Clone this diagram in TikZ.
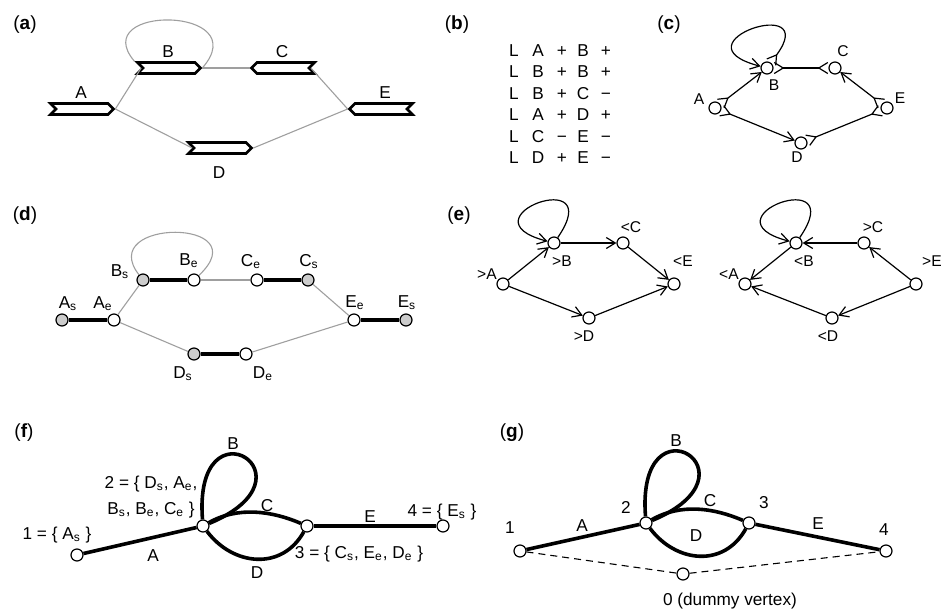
\documentclass[tikz,border=0pt]{standalone}
\usepackage{fontspec}
\setmainfont{Liberation Sans}
\usetikzlibrary{arrows.meta}
\usetikzlibrary{shapes.symbols}

\tikzset{
  lbl/.style={font=\fontsize{8.6}{10}\selectfont, inner sep=0pt,
    text height=6.1pt, text depth=0pt},
  slbl/.style={font=\fontsize{7.8}{9}\selectfont, inner sep=0pt,
    text height=5.6pt, text depth=0pt},
  panel/.style={font=\fontsize{9.5}{11}\selectfont, inner sep=0pt},
  chev/.style={signal, draw, fill=white, line width=1.3pt, inner sep=0pt,
    minimum width=31.5pt, minimum height=5.5pt,
    signal from=west, signal to=east},
  vchev/.style={signal, draw, fill=white, line width=1.3pt, inner sep=0pt,
    minimum width=31.5pt, minimum height=5.5pt,
    signal from=east, signal to=west},
  link/.style={draw=gray!75, line width=0.55pt},
  vtx/.style={circle, draw, fill=white, line width=0.6pt, inner sep=0pt,
    minimum size=6pt},
  svtx/.style={vtx, fill=gray!40},
  seg/.style={line width=2pt},
  arc/.style={line width=1.8pt},
  bid/.style={line width=0.6pt, >={Straight Barb[length=4.5pt,width=5.5pt]}},
  dir/.style={line width=0.6pt, >={Straight Barb[length=4.5pt,width=5.5pt]}, ->},
}

\begin{document}
\begin{tikzpicture}[x=0.5pt, y=-0.5pt]
  \useasboundingbox (0,0) rectangle (949,616);

  % (a) contigs and links
  \node[panel] (pa) at (25,25) {(\textbf{a})};
  \node[chev] (aA) at (82,109) {};
  \node[chev] (aB) at (169,68) {};
  \node[vchev] (aC) at (283,68) {};
  \node[chev] (aD) at (220,148) {};
  \node[vchev] (aE) at (381,109) {};
  \node[lbl] (aAl) at (81,92) {A};
  \node[lbl] (aBl) at (168,51) {B};
  \node[lbl] (aCl) at (282,51) {C};
  \node[lbl] (aDl) at (219,172) {D};
  \node[lbl] (aEl) at (385,92) {E};
  \draw[link] (aA.east) -- (aB.west);
  \draw[link] (aA.east) -- (aD.west);
  \draw[link] (aB.east) -- (aC.west);
  \draw[link] (aC.east) -- (aE.west);
  \draw[link] (aD.east) -- (aE.west);
  \draw[link] (aB.north west) .. controls +(-48,-57) and +(54,-62) .. (aB.east);

  % (b) link lines
  \node[panel] (pb) at (457,25) {(\textbf{b})};
  \foreach \u/\su/\v/\sv [count=\i] in
      {A/+/B/+, B/+/B/+, B/+/C/−, A/+/D/+, C/−/E/−, D/+/E/−} {
    \path (514,28.5+21.5*\i) node[lbl] (bL\i) {L}
      ++(24,0) node[lbl] (bU\i) {\u}
      ++(24,0) node[lbl] (bSu\i) {\su}
      ++(21,0) node[lbl] (bV\i) {\v}
      ++(23,0) node[lbl] (bSv\i) {\sv};
  }

  % (c) bidirected graph
  \node[panel] (pc) at (669,25) {(\textbf{c})};
  \node[vtx] (cA) at (715,108) {};
  \node[vtx] (cB) at (767,68) {};
  \node[vtx] (cC) at (835,68) {};
  \node[vtx] (cD) at (801,143) {};
  \node[vtx] (cE) at (887,108) {};
  \node[slbl] (cAl) at (699,99) {A};
  \node[slbl] (cBl) at (774,85) {B};
  \node[slbl] (cCl) at (843,51) {C};
  \node[slbl] (cDl) at (797,157) {D};
  \node[slbl] (cEl) at (900,98) {E};
  \draw[bid, >->] (cA) -- (cB);
  \draw[bid, >->] (cB) .. controls +(55,-75) and +(-95,-25) .. (cB);
  \draw[bid, >-<] (cB) -- (cC);
  \draw[bid, >->] (cA) -- (cD);
  \draw[bid, <-<] (cC) -- (cE);
  \draw[bid, >-<] (cD) -- (cE);

  % (d) contig ends
  \node[panel] (pd) at (25,216) {(\textbf{d})};
  \node[svtx] (dAs) at (62,320) {};
  \node[vtx] (dAe) at (114,320) {};
  \node[svtx] (dBs) at (143,280) {};
  \node[vtx] (dBe) at (194,280) {};
  \node[vtx] (dCe) at (257,280) {};
  \node[svtx] (dCs) at (308,280) {};
  \node[svtx] (dDs) at (194,354) {};
  \node[vtx] (dDe) at (246,354) {};
  \node[vtx] (dEe) at (354,320) {};
  \node[svtx] (dEs) at (406,320) {};
  \node[lbl] (dAsl) at (68,302) {A\textsubscript{s}};
  \node[lbl] (dAel) at (103,302) {A\textsubscript{e}};
  \node[lbl] (dBsl) at (120,270) {B\textsubscript{s}};
  \node[lbl] (dBel) at (189,259) {B\textsubscript{e}};
  \node[lbl] (dCel) at (251,260) {C\textsubscript{e}};
  \node[lbl] (dCsl) at (309,260) {C\textsubscript{s}};
  \node[lbl] (dEel) at (355,301) {E\textsubscript{e}};
  \node[lbl] (dEsl) at (407,301) {E\textsubscript{s}};
  \node[lbl] (dDsl) at (183,372) {D\textsubscript{s}};
  \node[lbl] (dDel) at (263,372) {D\textsubscript{e}};
  \draw[seg] (dAs) -- (dAe);
  \draw[seg] (dBs) -- (dBe);
  \draw[seg] (dCe) -- (dCs);
  \draw[seg] (dDs) -- (dDe);
  \draw[seg] (dEe) -- (dEs);
  \draw[link] (dAe) -- (dBs);
  \draw[link] (dAe) -- (dDs);
  \draw[link] (dBe) -- (dCe);
  \draw[link] (dCs) -- (dEe);
  \draw[link] (dDe) -- (dEe);
  \draw[link] (dBs) .. controls +(-48,-62) and +(66,-62) .. (dBe);

  % (e) the two strands
  \node[panel] (pe) at (459,216) {(\textbf{e})};
  \node[vtx] (eA) at (503,284) {};
  \node[vtx] (eB) at (554,243) {};
  \node[vtx] (eC) at (623,243) {};
  \node[vtx] (eD) at (589,318) {};
  \node[vtx] (eE) at (674,284) {};
  \node[slbl] (eAl) at (487,274) {>A};
  \node[slbl] (eBl) at (562,261) {>B};
  \node[slbl] (eCl) at (631,227) {<C};
  \node[slbl] (eDl) at (584,336) {>D};
  \node[slbl] (eEl) at (683,261) {<E};
  \draw[dir] (eA) -- (eB);
  \draw[dir] (eB) .. controls +(55,-80) and +(-95,-25) .. (eB);
  \draw[dir] (eB) -- (eC);
  \draw[dir] (eC) -- (eE);
  \draw[dir] (eA) -- (eD);
  \draw[dir] (eD) -- (eE);

  \node[vtx] (rA) at (745,284) {};
  \node[vtx] (rB) at (796,243) {};
  \node[vtx] (rC) at (864,243) {};
  \node[vtx] (rD) at (832,318) {};
  \node[vtx] (rE) at (916,284) {};
  \node[slbl] (rAl) at (729,274) {<A};
  \node[slbl] (rBl) at (804,261) {<B};
  \node[slbl] (rCl) at (873,227) {>C};
  \node[slbl] (rDl) at (828,336) {<D};
  \node[slbl] (rEl) at (932,261) {>E};
  \draw[dir] (rB) -- (rA);
  \draw[dir] (rB) .. controls +(55,-80) and +(-95,-25) .. (rB);
  \draw[dir] (rC) -- (rB);
  \draw[dir] (rE) -- (rC);
  \draw[dir] (rD) -- (rA);
  \draw[dir] (rE) -- (rD);

  % (f) merged ends
  \node[panel] (pf) at (24,433) {(\textbf{f})};
  \node[vtx] (f1) at (77,555) {};
  \node[vtx] (f2) at (203,526) {};
  \node[vtx] (f3) at (307,526) {};
  \node[vtx] (f4) at (443,526) {};
  \draw[arc] (f1) -- (f2);
  \draw[arc] (f2) .. controls +(-10,-130) and +(120,-50) .. (f2);
  \draw[arc] (f2) .. controls +(35,-20) and +(-35,-15) .. (f3);
  \draw[arc] (f2) .. controls +(30,40) and +(-25,45) .. (f3);
  \draw[arc] (f3) -- (f4);
  \node[lbl] (fAl) at (153,555) {A};
  \node[lbl] (fBl) at (233,443) {B};
  \node[lbl] (fCl) at (267,505) {C};
  \node[lbl] (fDl) at (257,572) {D};
  \node[lbl] (fEl) at (370,516) {E};
  \node[lbl] (f1l) at (57,533) {1 = \{ A\textsubscript{s} \}};
  \node[lbl] (f2l) at (151,482) {2 = \{ D\textsubscript{s}, A\textsubscript{e},};
  \node[lbl] (f2m) at (151,508) {B\textsubscript{s}, B\textsubscript{e}, C\textsubscript{e} \}};
  \node[lbl] (f3l) at (359,552) {3 = \{ C\textsubscript{s}, E\textsubscript{e}, D\textsubscript{e} \}};
  \node[lbl] (f4l) at (442,510) {4 = \{ E\textsubscript{s} \}};

  % (g) with dummy vertex
  \node[panel] (pg) at (512,433) {(\textbf{g})};
  \node[vtx] (g1) at (520,551) {};
  \node[vtx] (g2) at (646,523) {};
  \node[vtx] (g3) at (749,523) {};
  \node[vtx] (g4) at (886,551) {};
  \node[vtx] (g0) at (683,574) {};
  \draw[line width=0.55pt, dash pattern=on 3.5pt off 2.5pt] (g1) -- (g0) -- (g4);
  \draw[arc] (g1) -- (g2);
  \draw[arc] (g2) .. controls +(-10,-130) and +(120,-50) .. (g2);
  \draw[arc] (g2) .. controls +(35,-20) and +(-35,-15) .. (g3);
  \draw[arc] (g2) .. controls +(30,40) and +(-25,45) .. (g3);
  \draw[arc] (g3) -- (g4);
  \node[lbl] (gAl) at (582,525) {A};
  \node[lbl] (gBl) at (676,440) {B};
  \node[lbl] (gCl) at (710,500) {C};
  \node[lbl] (gDl) at (696,535) {D};
  \node[lbl] (gEl) at (818,523) {E};
  \node[lbl] (g1l) at (510,527) {1};
  \node[lbl] (g2l) at (626,507) {2};
  \node[lbl] (g3l) at (764,502) {3};
  \node[lbl] (g4l) at (884,529) {4};
  \node[lbl] (g0l) at (730,599) {0 (dummy vertex)};
\end{tikzpicture}
\end{document}
